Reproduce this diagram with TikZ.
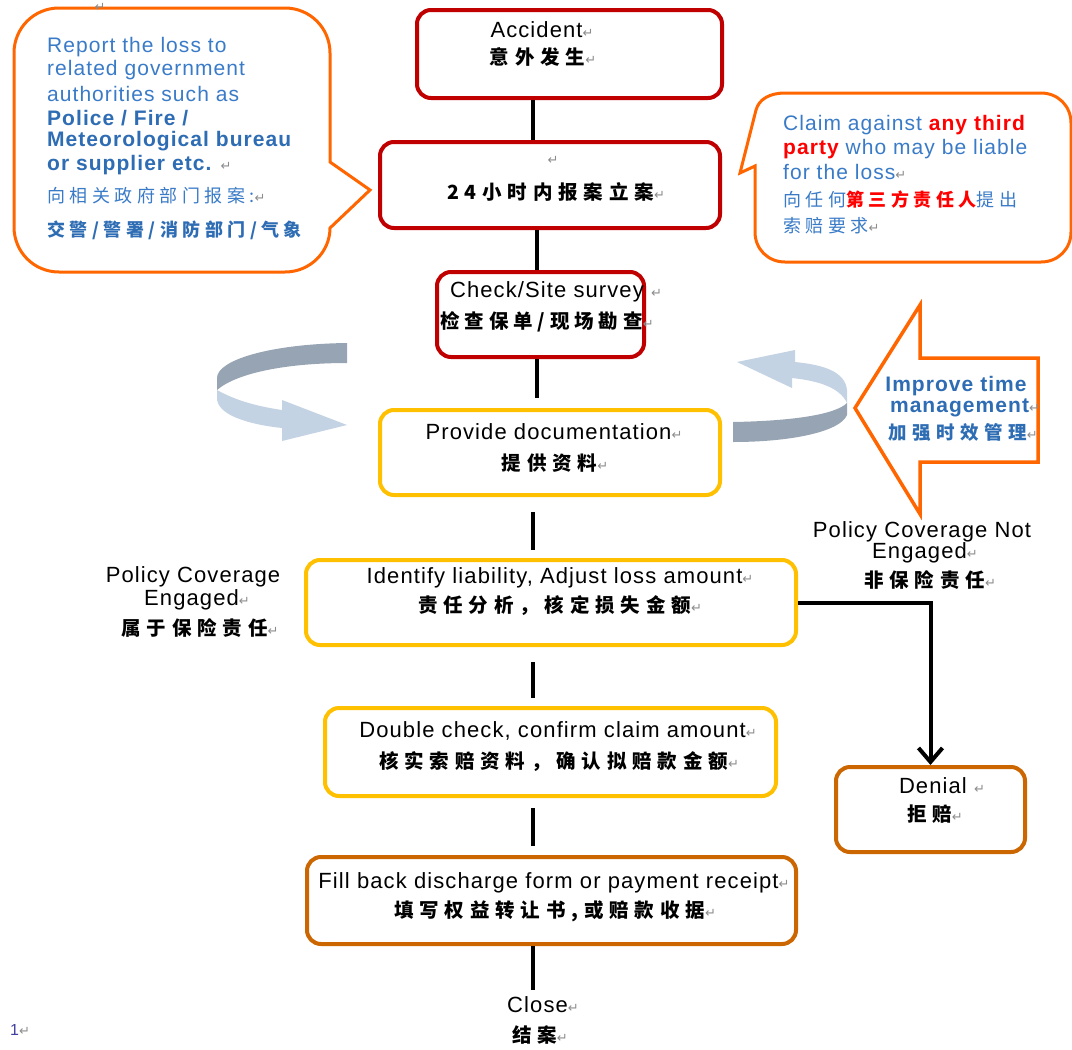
\documentclass[tikz,border=0pt]{standalone}
\usepackage{fontspec}
\setmainfont{Liberation Sans}
\newfontfamily\enf{Liberation Sans}[LetterSpace=5]
\newfontfamily\zhf{Noto Sans CJK SC}[LetterSpace=30]
\newfontfamily\zhc{Noto Sans CJK SC}[LetterSpace=25]
\newfontfamily\symf{DejaVu Sans}
\usetikzlibrary{arrows.meta}
\definecolor{dred}{HTML}{C00000}
\definecolor{ylw}{HTML}{FFC000}
\definecolor{brn}{HTML}{CC6600}
\definecolor{org}{HTML}{FF6600}
\definecolor{blu}{HTML}{3A7BC8}
\definecolor{bblu}{HTML}{2E6DB4}
\definecolor{arrD}{HTML}{97A4B3}
\definecolor{arrL}{HTML}{C3D3E3}
\definecolor{pmg}{HTML}{8C8C8C}
\definecolor{pgnum}{HTML}{4040A0}
\newcommand\pmark{{\symf\mdseries\color{pmg}\fontsize{13}{13}\selectfont ↵}}
\tikzset{
  box/.style={draw, line width=4pt, rounded corners=14pt, fill=white, inner sep=0pt},
  conn/.style={line width=4.5pt},
  callout/.style={draw=org, line width=3pt, fill=white, line join=miter},
  en/.style={inner sep=0pt, font=\enf\fontsize{22}{26}\selectfont},
  zh/.style={inner sep=0pt, font=\zhf\bfseries\fontsize{19.5}{23}\selectfont},
  cen/.style={inner sep=0pt, anchor=west, text=blu, font=\enf\fontsize{21}{25}\selectfont},
  cenb/.style={inner sep=0pt, anchor=west, text=bblu, font=\enf\bfseries\fontsize{21}{25}\selectfont},
  czh/.style={inner sep=0pt, anchor=west, text=blu, font=\zhc\fontsize{18}{22}\selectfont},
  czhb/.style={inner sep=0pt, anchor=west, text=bblu, font=\zhc\bfseries\fontsize{18}{22}\selectfont},
  imp/.style={inner sep=0pt, text=bblu, font=\enf\bfseries\fontsize{21}{25}\selectfont},
  impzh/.style={inner sep=0pt, text=bblu, font=\zhf\bfseries\fontsize{18.5}{22}\selectfont},
}
\begin{document}
\begin{tikzpicture}[x=1pt,y=-1pt]
\fill[white] (0,0) rectangle (1072,1050);
\useasboundingbox (0,0) rectangle (1072,1050);

% circular arrows
\fill[arrD] (347,343) .. controls (270,344) and (217,360) .. (217,378) -- (217,390) .. controls (238,372) and (290,363) .. (347,363) -- cycle;
\fill[arrL] (217,390) .. controls (235,400) and (255,406) .. (282,410) -- (282,400) -- (347,425) -- (282,441) -- (282,428) .. controls (245,424) and (217,414) .. (217,398) -- cycle;
\fill[arrD] (733,422) .. controls (790,421) and (835,415) .. (847,403) -- (847,415) .. controls (840,432) and (790,442) .. (733,442) -- cycle;
\fill[arrL] (847,403) -- (847,390) .. controls (845,372) and (825,365) .. (795,362) -- (795,350) -- (737,362) -- (792,388) -- (792,378) .. controls (820,381) and (840,388) .. (847,403) -- cycle;

% callouts
\draw[callout] (59,8) -- (285,8) .. controls (310,8) and (330,28) .. (330,53) -- (330,162) -- (370,190) -- (330,228) .. controls (330,252) and (310,272) .. (285,272) -- (59,272) .. controls (34,272) and (14,252) .. (14,227) -- (14,53) .. controls (14,28) and (34,8) .. (59,8) -- cycle;
\draw[callout] (785,93) -- (1041,93) .. controls (1058,93) and (1071,106) .. (1071,123) -- (1071,232) .. controls (1071,249) and (1058,262) .. (1041,262) -- (785,262) .. controls (768,262) and (755,249) .. (755,232) -- (755,166) -- (740,173) -- (756,110) .. controls (759,99) and (770,93) .. (785,93) -- cycle;
\draw[callout, line width=3.5pt] (855,408) -- (920,305) -- (920,358) -- (1038,358) -- (1038,462) -- (920,462) -- (920,514) -- cycle;

% boxes
\node[box, draw=dred, minimum width=305pt, minimum height=88pt] (acc) at (569.5,54) {};
\node[box, draw=dred, minimum width=340pt, minimum height=86pt] (rep) at (550,185) {};
\node[box, draw=dred, minimum width=207pt, minimum height=85pt] (chk) at (540.5,314.5) {};
\node[box, draw=ylw, minimum width=340pt, minimum height=85pt] (doc) at (550,452.5) {};
\node[box, draw=ylw, minimum width=490pt, minimum height=85pt] (idf) at (551,602.5) {};
\node[box, draw=ylw, minimum width=451pt, minimum height=88pt] (dbl) at (550.5,752) {};
\node[box, draw=brn, minimum width=489pt, minimum height=87pt] (fill) at (551.5,900.5) {};
\node[box, draw=brn, minimum width=189pt, minimum height=85pt] (den) at (930.5,809.5) {};

% box texts
\node[en] (acc1) at (542,30) {Accident\pmark};
\node[zh] (acc2) at (543,57) {意外发生\pmark};
\node[en] (rep1) at (553,160) {\pmark};
\node[zh] (rep2) at (556,192) {24小时内报案立案\pmark};
\node[en] (chk1) at (556,292) {Check/Site survey \pmark};
\node[zh, font=\zhc\bfseries\fontsize{19.5}{23}\selectfont] (chk2) at (547,322) {检查保单/现场勘查\pmark};
\node[en] (doc1) at (554,432) {Provide documentation\pmark};
\node[zh] (doc2) at (555,463) {提供资料\pmark};
\node[en] (idf1) at (560,578) {Identify liability, Adjust loss amount\pmark};
\node[zh] (idf2) at (560,606) {责任分析，核定损失金额\pmark};
\node[en] (dbl1) at (558,731) {Double check, confirm claim amount\pmark};
\node[zh] (dbl2) at (559,762) {核实索赔资料，确认拟赔款金额\pmark};
\node[en] (fill1) at (554,883) {Fill back discharge form or payment receipt\pmark};
\node[zh] (fill2) at (555,911) {填写权益转让书,或赔款收据\pmark};
\node[en] (close) at (543,1005) {Close\pmark};
\node[zh] (close2) at (540,1035) {结案\pmark};
\node[en] (den1) at (942,786) {Denial \pmark};
\node[zh] (den2) at (935,814) {拒赔\pmark};

% side labels
\node[en] (nc1) at (922,532) {Policy Coverage Not};
\node[en] (nc2) at (925,553) {Engaged\pmark};
\node[zh] (nc3) at (930,580) {非保险责任\pmark};
\node[en] (pc1) at (193,577) {Policy Coverage};
\node[en] (pc2) at (197,600) {Engaged\pmark};
\node[zh] (pc3) at (200,628) {属于保险责任\pmark};

% improve arrow text
\node[imp] (im1) at (956,386) {Improve time};
\node[imp] (im2) at (965,408) {management\pmark};
\node[impzh] (im3) at (963,432) {加强时效管理\pmark};

% left callout text
\node[cen] (l1) at (47,47) {Report the loss to};
\node[cen] (l2) at (47,70) {related government};
\node[cen] (l3) at (47,94) {authorities such as};
\node[cenb] (l4) at (47,118) {Police / Fire /};
\node[cenb] (l5) at (47,141) {Meteorological bureau};
\node[cenb] (l6) at (47,165) {or supplier etc. \pmark};
\node[czh] (l7) at (47,196) {向相关政府部门报案:\pmark};
\node[czhb] (l8) at (47,230) {交警/警署/消防部门/气象};

% right callout text
\node[cen] (r1) at (783,125) {Claim against {\color{red}\bfseries any third}};
\node[cen] (r2) at (783,149) {{\color{red}\bfseries party} who may be liable};
\node[cen] (r3) at (783,172) {for the loss\pmark};
\node[czh] (r4) at (783,200) {向任何{\color{red}\bfseries 第三方责任人}提出};
\node[czh] (r5) at (783,226) {索赔要求\pmark};

% page marks
\node[inner sep=0pt] (top) at (100,7) {\pmark};
\node[inner sep=0pt, anchor=west, text=pgnum, font=\enf\fontsize{16}{18}\selectfont] (pg) at (10,1030) {1\pmark};

% connectors
\coordinate (sx) at (533,0);
\coordinate (sy) at (537,0);
\draw[conn] (acc.south -| sx) -- (rep.north -| sx);
\draw[conn] (rep.south -| sy) -- (chk.north -| sy);
\draw[conn, shorten >=10pt] (chk.south -| sy) -- (doc.north -| sy);
\draw[conn, shorten <=15pt, shorten >=8pt] (doc.south -| sx) -- (idf.north -| sx);
\draw[conn, shorten <=15pt, shorten >=8pt] (idf.south -| sx) -- (dbl.north -| sx);
\draw[conn, shorten <=10pt, shorten >=9pt] (dbl.south -| sx) -- (fill.north -| sx);
\draw[conn, shorten >=7pt] (fill.south -| sx) -- (close.north -| sx);
\draw[conn, line width=4pt, -{Straight Barb[length=14pt, width=24pt]}] (idf.east) -| (den.north);
\end{tikzpicture}
\end{document}
